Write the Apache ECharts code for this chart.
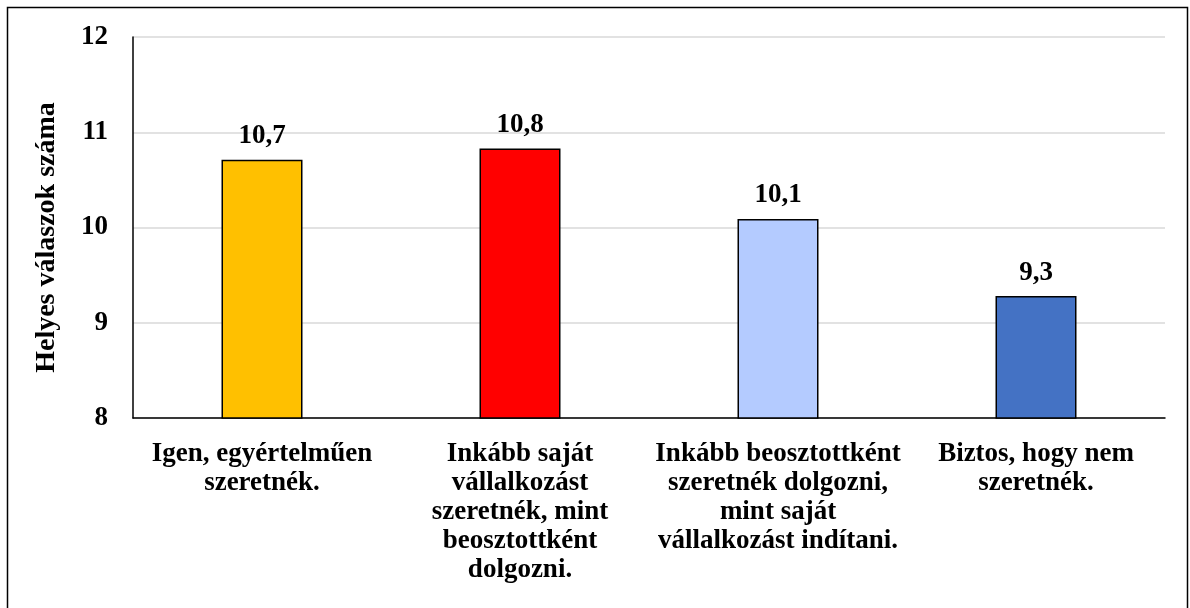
<!DOCTYPE html>
<html>
<head>
<meta charset="utf-8">
<script src="https://cdn.jsdelivr.net/npm/echarts@6/dist/echarts.min.js"></script>
<style>
  html, body { margin: 0; padding: 0; background: #fff; }
  #chart { width: 1190px; height: 608px; }
</style>
</head>
<body>
<div id="chart"></div>
<script>
// kategóriák (tengelyfeliratok, sortörésekkel)
const categories = [
  'Igen, egyértelműen\nszeretnék.',
  'Inkább saját\nvállalkozást\nszeretnék, mint\nbeosztottként\ndolgozni.',
  'Inkább beosztottként\nszeretnék dolgozni,\nmint saját\nvállalkozást indítani.',
  'Biztos, hogy nem\nszeretnék.'
]
// helyes válaszok átlaga
const values = [10.71, 10.83, 10.09, 9.28]
const barColors = ['#FFC000', '#FF0000', '#B4CBFF', '#4472C4']

const font = '"Liberation Serif", "Times New Roman", serif'

const chart = echarts.init(document.getElementById('chart'))
chart.setOption({
  animation: false,
  graphic: [
    {
      type: 'rect',
      shape: { x: 7.5, y: 7.5, width: 1180, height: 620 },
      style: { fill: 'none', stroke: '#000', lineWidth: 1.5 },
      silent: true
    }
  ],
  grid: { left: 133, right: 25, top: 37, bottom: 190 },
  xAxis: {
    type: 'category',
    data: categories,
    axisLine: { lineStyle: { color: '#000', width: 1.5 } },
    axisTick: { show: false },
    axisLabel: {
      interval: 0,
      margin: 22,
      color: '#000',
      fontFamily: font,
      fontWeight: 'bold',
      fontSize: 27,
      lineHeight: 29
    }
  },
  yAxis: {
    type: 'value',
    min: 8,
    max: 12,
    interval: 1,
    name: 'Helyes válaszok száma',
    nameLocation: 'middle',
    nameGap: 72,
    nameTextStyle: {
      color: '#000',
      fontFamily: font,
      fontWeight: 'bold',
      fontSize: 28,
      padding: [0, 20, 0, 0]
    },
    axisLine: { show: true, lineStyle: { color: '#000', width: 1.5 } },
    axisTick: { show: false },
    splitLine: { lineStyle: { color: '#d9d9d9', width: 1.5 } },
    axisLabel: { margin: 25, color: '#000', fontFamily: font, fontWeight: 'bold', fontSize: 27 }
  },
  series: [
    {
      type: 'bar',
      barWidth: 81,
      data: values.map((v, i) => ({
        value: v,
        itemStyle: { color: barColors[i], borderColor: '#000', borderWidth: 1.5 }
      })),
      label: {
        show: true,
        position: 'top',
        distance: 10,
        color: '#000',
        fontFamily: font,
        fontWeight: 'bold',
        fontSize: 27,
        formatter: p => p.value.toFixed(1).replace('.', ',')
      }
    }
  ]
})
</script>
</body>
</html>
